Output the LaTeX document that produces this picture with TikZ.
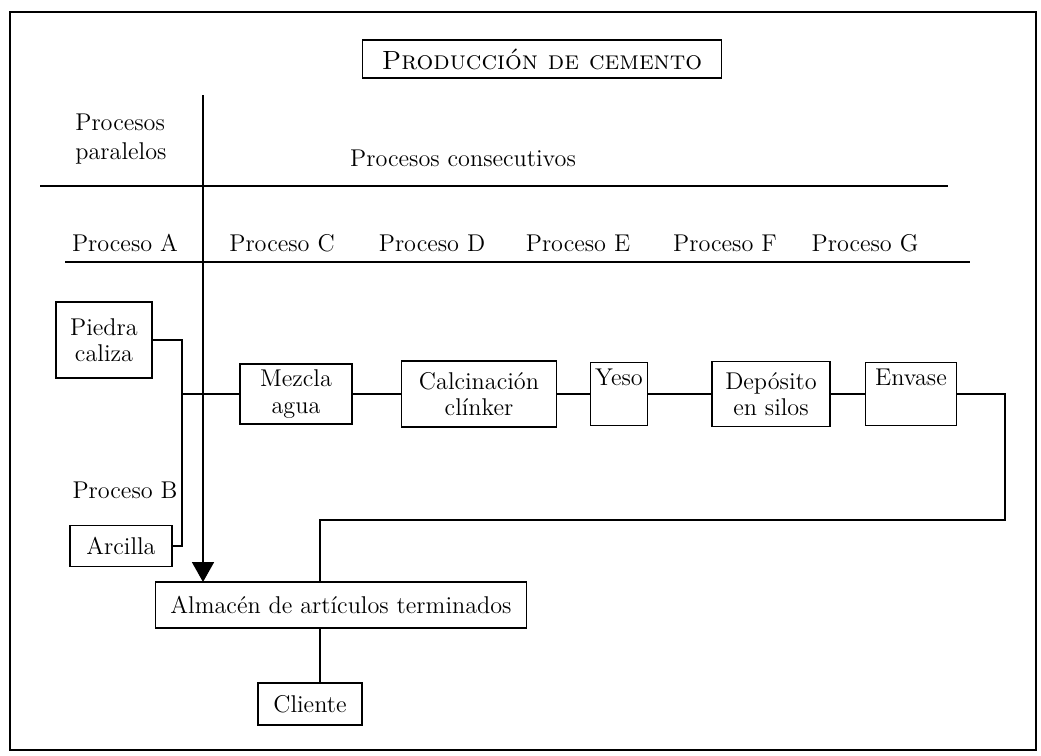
\documentclass[tikz,border=0pt]{standalone}
\usepackage{tikz}
\usetikzlibrary{arrows.meta,positioning}
\tikzset{
    caja/.style={draw, line width=1pt, inner sep=1pt, align=center, font=\fontsize{13.8}{15}\selectfont},
    etiqueta/.style={inner sep=0pt, align=left, font=\fontsize{13.8}{17}\selectfont},
    linea/.style={line width=1pt}
}
\begin{document}
\begin{tikzpicture}[x=0.02cm, y=-0.02cm]
            \useasboundingbox (0,0) rectangle (1041,755);
            \draw[line width=1.2pt] (10,12) rectangle (1036,750);

            % titulo
            \node[caja, minimum width=7.18cm, minimum height=0.76cm, font=\fontsize{15}{17}\selectfont] (titulo) at (542,59) {\textsc{Producción de cemento}};

            % encabezados
            \node[etiqueta, anchor=west] (paral) at (75,139) {Procesos\\paralelos};
            \node[etiqueta] (consec) at (463,158) {Procesos consecutivos};
            \draw[linea] (40,186) -- (948,186);
            \node[etiqueta] (pa) at (125,243) {Proceso A};
            \node[etiqueta] (pc) at (282,243) {Proceso C};
            \node[etiqueta] (pd) at (432,243) {Proceso D};
            \node[etiqueta] (pe) at (578,243) {Proceso E};
            \node[etiqueta] (pf) at (725,243) {Proceso F};
            \node[etiqueta] (pg) at (865,243) {Proceso G};
            \draw[linea] (65,262) -- (970,262);
            \draw[linea, -{Triangle[width=0.44cm,length=0.4cm]}] (203,95) -- (203,582);

            % procesos paralelos
            \node[caja, minimum width=1.92cm, minimum height=1.52cm] (piedra) at (104,340) {Piedra\\caliza};
            \node[etiqueta] (pb) at (125,490) {Proceso B};
            \node[caja, minimum width=2.04cm, minimum height=0.82cm] (arcilla) at (121,546) {Arcilla};
            \coordinate (union) at (182,394);

            % procesos consecutivos
            \node[caja, minimum width=2.24cm, minimum height=1.2cm] (mezcla) at (296,394) {Mezcla\\agua};
            \node[caja, minimum width=3.1cm, minimum height=1.32cm] (calcina) at (479,394) {Calcinación\\clínker};
            \node[caja, minimum width=1.14cm, minimum height=1.26cm] (yeso) at (619,394) {Yeso\\\strut};
            \node[caja, minimum width=2.36cm, minimum height=1.3cm] (deposito) at (771,394) {Depósito\\en silos};
            \node[caja, minimum width=1.82cm, minimum height=1.26cm] (envase) at (911,394) {Envase\\\strut};

            % almacen y cliente
            \node[caja, minimum width=7.42cm, minimum height=0.92cm] (almacen) at (341,605) {Almacén de artículos terminados};
            \node[caja, minimum width=2.08cm, minimum height=0.84cm] (cliente) at (310,704) {Cliente};
            \coordinate (bajada) at (320,520);

            % conexiones
            \draw[linea] (piedra.east) -| (union) |- (arcilla.east);
            \draw[linea] (union) -- (mezcla.west);
            \draw[linea] (mezcla) -- (calcina);
            \draw[linea] (calcina) -- (yeso);
            \draw[linea] (yeso) -- (deposito);
            \draw[linea] (deposito) -- (envase);
            \draw[linea] (envase.east) -| (1005,520) -- (bajada) -- (bajada |- almacen.north);
            \draw[linea] (bajada |- almacen.south) -- (bajada |- cliente.north);
\end{tikzpicture}
\end{document}
